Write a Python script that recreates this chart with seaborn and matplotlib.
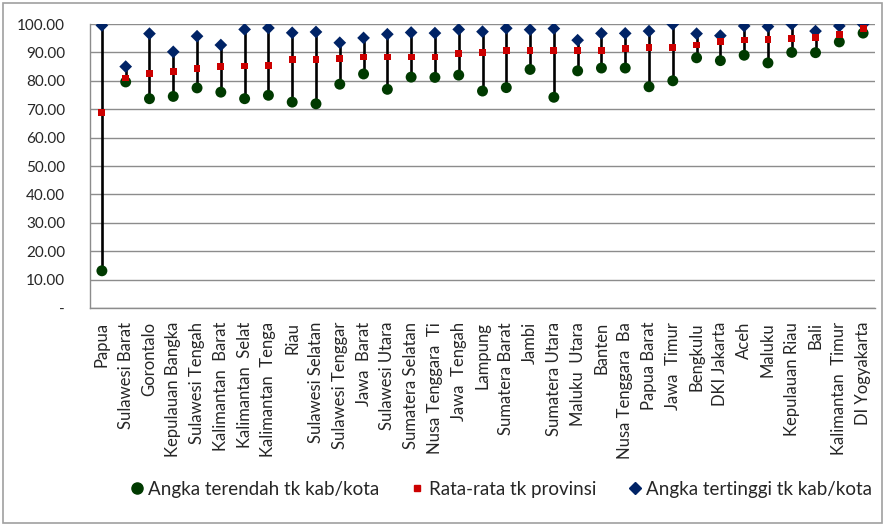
import matplotlib
matplotlib.use("Agg")
import matplotlib.pyplot as plt
from matplotlib.patches import Rectangle
from matplotlib.lines import Line2D
from matplotlib.ticker import FuncFormatter, FixedLocator
import seaborn as sns
import pandas as pd
import numpy as np

# data
provinsi = ["Papua", "Sulawesi Barat", "Gorontalo", "Kepulauan Bangka", "Sulawesi Tengah",
            "Kalimantan  Barat", "Kalimantan  Selat", "Kalimantan  Tenga", "Riau", "Sulawesi Selatan",
            "Sulawesi Tenggar", "Jawa  Barat", "Sulawesi Utara", "Sumatera Selatan", "Nusa Tenggara  Ti",
            "Jawa  Tengah", "Lampung", "Sumatera Barat", "Jambi", "Sumatera Utara",
            "Maluku  Utara", "Banten", "Nusa Tenggara  Ba", "Papua Barat", "Jawa  Timur",
            "Bengkulu", "DKI Jakarta", "Aceh", "Maluku", "Kepulauan Riau",
            "Bali", "Kalimantan  Timur", "DI Yogyakarta"]
terendah = [13.1, 79.6, 73.7, 74.5, 77.5, 76.0, 73.7, 74.9, 72.5, 71.9,
            78.8, 82.4, 77.0, 81.3, 81.2, 82.0, 76.4, 77.6, 84.0, 74.2,
            83.5, 84.5, 84.5, 77.9, 80.0, 88.1, 87.1, 89.0, 86.3, 90.0,
            89.9, 93.7, 96.8]
rata_rata = [68.8, 81.0, 82.5, 83.4, 84.3, 85.1, 85.2, 85.5, 87.6, 87.6,
             87.8, 88.4, 88.4, 88.4, 88.4, 89.6, 90.0, 90.6, 90.6, 90.6,
             90.8, 90.8, 91.5, 91.6, 91.6, 92.6, 93.7, 94.4, 94.6, 95.0,
             95.2, 96.4, 98.3]
tertinggi = [99.5, 85.0, 96.6, 90.2, 95.7, 92.6, 98.1, 98.6, 96.9, 97.2,
             93.4, 95.1, 96.4, 97.0, 96.8, 98.1, 97.3, 98.5, 98.0, 98.4,
             94.3, 96.7, 96.7, 97.5, 99.9, 96.6, 95.9, 99.3, 99.1, 99.9,
             97.5, 99.3, 99.9]

label_low = "Angka terendah tk kab/kota"
label_mean = "Rata-rata tk provinsi"
label_high = "Angka tertinggi tk kab/kota"

df = pd.DataFrame({"provinsi": provinsi, "low": terendah, "mean": rata_rata, "high": tertinggi})

sns.set_theme(style="white")
plt.rcParams['font.family'] = ['Lato', 'DejaVu Sans']

c_low = "#003A00"
c_mean = "#CC0000"
c_high = "#002366"
grid_c = "#8C8C8C"

fig = plt.figure(figsize=(8.85, 5.26), dpi=100)
ax = fig.add_axes([90 / 885, (526 - 308) / 526, 785 / 885, 284 / 526])

# garis tinggi-rendah
ax.vlines(df["provinsi"], df["low"], df["high"], color="black", linewidth=1.9, zorder=2)

sns.scatterplot(data=df, x="provinsi", y="high", marker="D", s=42, color=c_high,
                edgecolor="none", ax=ax, zorder=3)
sns.scatterplot(data=df, x="provinsi", y="low", marker="o", s=62, color=c_low,
                edgecolor="none", ax=ax, zorder=4)
sns.scatterplot(data=df, x="provinsi", y="mean", marker="s", s=24, color=c_mean,
                edgecolor="none", ax=ax, zorder=5)

n = len(provinsi)
ax.set_xlim(-0.5, n - 0.5)
ax.set_ylim(0, 100)
ax.set_yticks(np.arange(0, 101, 10))
ax.yaxis.set_major_formatter(FuncFormatter(lambda v, p: "-" if v == 0 else f"{v:.2f}"))
ax.grid(axis="y", color=grid_c, linewidth=1.0)
ax.set_axisbelow(True)

ax.set_xlabel("")
ax.set_ylabel("")
ax.tick_params(axis="x", which="major", length=0, labelrotation=90, labelsize=12, pad=10)
ax.xaxis.set_minor_locator(FixedLocator(np.arange(-0.5, n, 1.0)))
ax.tick_params(axis="x", which="minor", length=4, color=grid_c, direction="out")
ax.tick_params(axis="y", length=6, color=grid_c, direction="out", labelsize=11, pad=12)
for lab in ax.get_xticklabels():
    lab.set_verticalalignment("top")

for side in ["top", "right"]:
    ax.spines[side].set_visible(False)
for side in ["left", "bottom"]:
    ax.spines[side].set_color(grid_c)
    ax.spines[side].set_linewidth(1.0)

handles = [
    Line2D([], [], linestyle="none", marker="o", markersize=8, color=c_low),
    Line2D([], [], linestyle="none", marker="s", markersize=5, color=c_mean),
    Line2D([], [], linestyle="none", marker="D", markersize=6, color=c_high),
]
fig.legend(handles, [label_low, label_mean, label_high], loc="center",
           bbox_to_anchor=(499 / 885, 37 / 526), ncol=3, frameon=False,
           fontsize=13.5, handletextpad=0.05, columnspacing=1.5, handlelength=1.1)

# bingkai luar
fig.patches.append(Rectangle((3 / 885, 3 / 526), 879 / 885, 520 / 526, transform=fig.transFigure,
                             fill=False, edgecolor="#A0A0A0", linewidth=1.2))

fig.savefig("out.png", dpi=100)
